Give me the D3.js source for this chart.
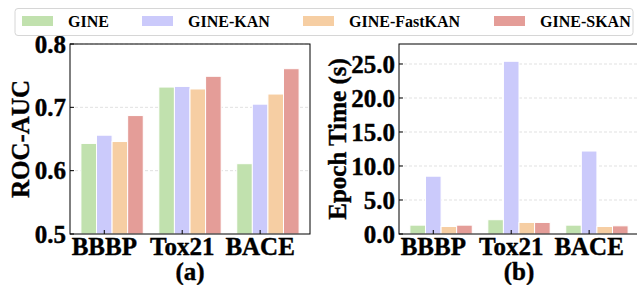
<!DOCTYPE html>
<html>
<head>
<meta charset="utf-8">
<script src="https://cdn.jsdelivr.net/npm/d3@7"></script>
<style>
  body { margin: 0; background: #fff; }
  svg text { font-family: "Liberation Serif", "Times New Roman", serif; font-weight: bold; fill: #000; }
  .grande { stroke: #000; stroke-width: 0.4px; }
</style>
</head>
<body>
<svg id="fig" width="637" height="285"></svg>
<script>
let datasets = ["BBBP", "Tox21", "BACE"];
let modelos = ["GINE", "GINE-KAN", "GINE-FastKAN", "GINE-SKAN"];
let colores = ["#c1e1ae", "#cbcafb", "#f6cea3", "#e49d98"];

// ROC-AUC por dataset (filas) y modelo (columnas)
let rocauc = [
  [0.643, 0.656, 0.646, 0.687],
  [0.732, 0.733, 0.729, 0.749],
  [0.611, 0.705, 0.721, 0.761]
];
// tiempo por epoca (s)
let tiempos = [
  [1.3, 8.5, 1.1, 1.3],
  [2.1, 25.4, 1.7, 1.7],
  [1.3, 12.2, 1.1, 1.2]
];
let ticksA = [0.5, 0.6, 0.7, 0.8];
let ticksB = [0, 5, 10, 15, 20, 25];

let svg = d3.select("#fig");
let ancho = 0.2;

function panel(x0, datos, dominio, ticks, fmt, ylabel, sub) {
  let top = 44, bottom = 234, w = 240;
  let g = svg.append("g");

  let xs = d3.scaleLinear().domain([-0.24, 2.84]).range([x0, x0 + w]);
  let ys = d3.scaleLinear().domain(dominio).range([bottom, top]);

  // grid
  g.selectAll(".grid")
    .data(ticks.filter(t => t != dominio[0]))
    .enter()
    .append("line")
    .attr("x1", x0).attr("x2", x0 + w)
    .attr("y1", d => ys(d)).attr("y2", d => ys(d))
    .style("stroke", "#d9d9d9")
    .style("stroke-width", 0.8)
    .style("stroke-dasharray", "3 2");

  datos.forEach((fila, i) => {
    g.selectAll(".b" + i)
      .data(fila)
      .enter()
      .append("rect")
      .attr("x", (d, j) => xs(i + j * ancho - ancho / 2))
      .attr("y", d => ys(d))
      .attr("width", xs(ancho) - xs(0))
      .attr("height", d => bottom - ys(d))
      .style("fill", (d, j) => colores[j])
      .style("stroke", "white")
      .style("stroke-width", 1);
  });

  // marco
  g.append("rect")
    .attr("x", x0).attr("y", top)
    .attr("width", w).attr("height", bottom - top)
    .style("fill", "none")
    .style("stroke", "black")
    .style("stroke-width", 1);

  // ticks x
  g.selectAll(".xt")
    .data(datasets)
    .enter()
    .append("line")
    .attr("x1", (d, i) => xs(i + 0.2)).attr("x2", (d, i) => xs(i + 0.2))
    .attr("y1", bottom).attr("y2", bottom - 4)
    .style("stroke", "black");

  g.selectAll(".xl")
    .data(datasets)
    .enter()
    .append("text")
    .attr("class", "grande")
    .attr("x", (d, i) => xs(i + 0.2))
    .attr("y", 255)
    .style("text-anchor", "middle")
    .style("font-size", "25px")
    .text(d => d);

  // ticks y
  g.selectAll(".yt")
    .data(ticks)
    .enter()
    .append("line")
    .attr("x1", x0).attr("x2", x0 + 4)
    .attr("y1", d => ys(d)).attr("y2", d => ys(d))
    .style("stroke", "black");

  g.selectAll(".yl")
    .data(ticks)
    .enter()
    .append("text")
    .attr("class", "grande")
    .attr("x", x0 - 4)
    .attr("y", d => ys(d))
    .attr("dy", "0.35em")
    .style("text-anchor", "end")
    .style("font-size", "25px")
    .text(d => fmt(d));

  g.append("text")
    .attr("class", "grande")
    .attr("transform", "translate(" + ylabel.x + "," + ((top + bottom) / 2) + ") rotate(-90)")
    .attr("dy", "0.35em")
    .style("text-anchor", "middle")
    .style("font-size", "25px")
    .text(ylabel.t);

  g.append("text")
    .attr("class", "grande")
    .attr("x", x0 + w / 2)
    .attr("y", 280)
    .style("text-anchor", "middle")
    .style("font-size", "25px")
    .text(sub);
}

panel(70, rocauc, [0.5, 0.8], ticksA, d3.format(".1f"), {x: 20, t: "ROC-AUC"}, "(a)");
panel(399, tiempos, [0, 27.94], ticksB, d3.format(".1f"), {x: 337, t: "Epoch Time (s)"}, "(b)");

// leyenda
let leg = svg.append("g");
leg.append("rect")
  .attr("x", 15).attr("y", 8.5)
  .attr("width", 618).attr("height", 27)
  .attr("rx", 3)
  .style("fill", "white")
  .style("fill-opacity", 0.8)
  .style("stroke", "#d6d6d6")
  .style("stroke-width", 1);

let legX = [22, 142, 303, 494];
leg.selectAll(".lp")
  .data(modelos)
  .enter()
  .append("rect")
  .attr("x", (d, i) => legX[i])
  .attr("y", 16)
  .attr("width", 31)
  .attr("height", 10)
  .style("fill", (d, i) => colores[i]);

leg.selectAll(".lt")
  .data(modelos)
  .enter()
  .append("text")
  .attr("x", (d, i) => legX[i] + 46)
  .attr("y", 27)
  .style("font-size", "16px")
  .text(d => d);
</script>
</body>
</html>
